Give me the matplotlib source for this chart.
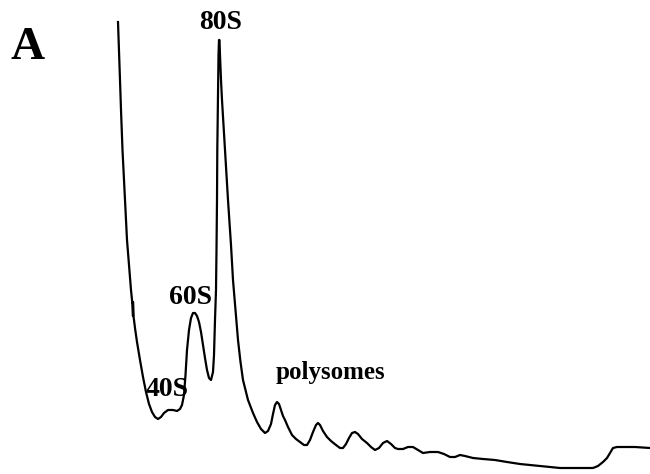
import matplotlib.pyplot as plt

# sucrose gradient profile: position along gradient vs absorbance (A254, arbitrary units)
position = [118, 119, 120, 121, 122.5, 124, 125.5, 127, 129, 131, 132.5, 133, 133, 133.5, 135,
            137, 140, 143, 146, 149, 152, 155, 158, 161, 164, 168, 173, 177, 180, 182,
            184, 185.5, 187, 189, 191, 193, 195, 197, 199, 201, 203, 205, 207, 209, 211,
            213, 214, 215, 216, 216.5, 217, 217.3, 218, 218.5, 219, 219.5, 220, 221, 222, 223.5,
            225, 228, 231, 233, 235.5, 238, 240.5, 243, 248, 253, 257, 261, 265, 268,
            271, 273, 275, 277, 279, 281, 283, 285, 288, 292, 296, 300, 304, 307, 310,
            313, 316, 318, 320, 323, 327, 331, 336, 340, 343, 346, 349, 352, 355, 358,
            362, 367, 371, 375, 379, 383, 387, 391, 395, 398, 403, 408, 413, 418, 423,
            430, 438, 444, 450, 455, 460, 465, 473, 483, 495, 507, 520, 540, 560, 580,
            593, 598, 603, 607, 610, 613, 617, 620, 635, 650]
signal = [452, 424, 394, 364, 324, 294, 264, 234, 209, 184, 169, 158, 172, 158, 146,
          132, 114, 97, 82, 70, 62, 57, 55, 57, 61, 64, 64, 63, 65, 69,
          79, 99, 124, 144, 156, 161, 161, 158, 152, 142, 129, 116, 104, 96, 94,
          102, 119, 154, 184, 224, 274, 324, 384, 419, 434, 434, 419, 394, 374, 349,
          324, 274, 229, 194, 164, 134, 112, 94, 74, 61, 52, 45, 41, 43,
          50, 60, 69, 72, 70, 64, 58, 54, 47, 39, 35, 32, 29, 29, 34,
          42, 49, 51, 49, 43, 37, 33, 29, 26, 26, 30, 36, 41, 42, 40,
          35, 31, 27, 24, 26, 31, 33, 30, 26, 25, 25, 27, 27, 24, 21,
          22, 22, 20, 17, 17, 19, 18, 16, 15, 14, 12, 10, 8, 6, 6,
          6, 8, 12, 16, 21, 26, 27, 27, 27, 26]

peak_labels = ["40S", "60S", "80S", "polysomes"]
label_pos = [(167, 84), (191, 176), (221, 452), (330, 101)]

fig = plt.figure(figsize=(6.5, 4.74), dpi=100)
ax = fig.add_axes([0, 0, 1, 1])
ax.plot(position, signal, color="black", lw=1.6, solid_joinstyle="round")
ax.set_xlim(0, 650)
ax.set_ylim(0, 474)
ax.axis("off")

for txt, (x, y) in zip(peak_labels, label_pos):
    ax.text(x, y, txt, ha="center", va="center", fontweight="bold",
            fontsize=18 if txt == "polysomes" else 20, family="Liberation Serif")

ax.text(28, 426, "A", ha="center", va="center", fontsize=34, fontweight="bold",
        family="Liberation Serif")

fig.savefig("out.png", dpi=100)
